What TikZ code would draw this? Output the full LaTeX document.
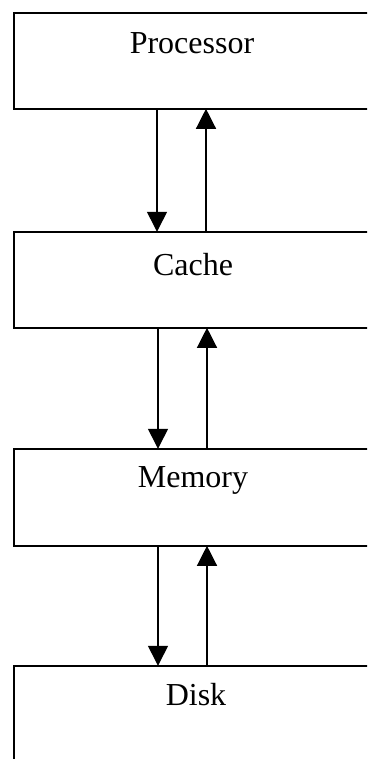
\documentclass[tikz,border=0pt]{standalone}
\usepackage{fontspec}
\setmainfont{Liberation Serif}
\usetikzlibrary{arrows.meta}
\begin{document}
\begin{tikzpicture}[x=1pt,y=1pt,
  box/.style={draw, line width=1.6pt, minimum width=372pt, anchor=north west, inner sep=0pt},
  lbl/.style={font=\fontsize{32}{36}\selectfont, anchor=center, inner sep=0pt},
  arr/.style={line width=1.3pt, -{Triangle[width=20pt,length=20pt]}, shorten >=-0.8pt}
]
\useasboundingbox (0,0) rectangle (367,-759);
\clip (0,0) rectangle (367,-759);
\node[box, minimum height=96pt] (proc) at (13,-12) {};
\node[box, minimum height=96pt] (cache) at (13,-231) {};
\node[box, minimum height=97pt] (mem) at (13,-448) {};
\node[box, minimum height=110pt] (disk) at (13,-665) {};
\node[lbl] (tproc) at ([xshift=179pt,yshift=-31pt]proc.north west) {Processor};
\node[lbl] (tcache) at ([xshift=180pt,yshift=-34pt]cache.north west) {Cache};
\node[lbl] (tmem) at ([xshift=180pt,yshift=-32pt]mem.north west) {Memory};
\node[lbl] (tdisk) at ([xshift=183pt,yshift=-30pt]disk.north west) {Disk};
\draw[arr] ([xshift=144pt]proc.south west) -- ([xshift=144pt]cache.north west);
\draw[arr] ([xshift=193pt]cache.north west) -- ([xshift=193pt]proc.south west);
\draw[arr] ([xshift=145pt]cache.south west) -- ([xshift=145pt]mem.north west);
\draw[arr] ([xshift=194pt]mem.north west) -- ([xshift=194pt]cache.south west);
\draw[arr] ([xshift=145pt]mem.south west) -- ([xshift=145pt]disk.north west);
\draw[arr] ([xshift=194pt]disk.north west) -- ([xshift=194pt]mem.south west);
\end{tikzpicture}
\end{document}
